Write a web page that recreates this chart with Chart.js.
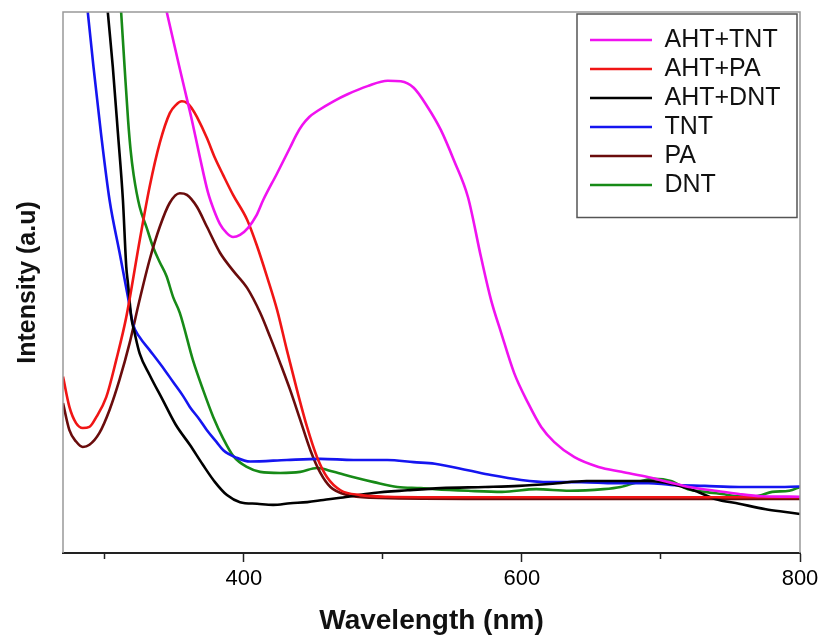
<!DOCTYPE html>
<html>
<head>
<meta charset="utf-8">
<script src="https://cdn.jsdelivr.net/npm/chart.js@4.4.1/dist/chart.umd.min.js"></script>
<style>
  body { margin: 0; background: #fff; }
</style>
</head>
<body>
<canvas id="specChart" width="820" height="638"></canvas>
<script>
// Wavelength (nm) and relative intensity
const ahtTntNm = [340, 344.6, 356.2, 362.7, 368.4, 374.2, 378.5, 382.9, 387.2, 392.3, 397.3, 403.1, 408.9, 413.9, 424.0, 433.4, 437.8, 442.1, 447.1, 452.9, 464.5, 474.6, 489.0, 503.5, 512.9, 522.2, 532.3, 541.7, 551.1, 561.2, 570.6, 577.8, 585.1, 594.4, 604.5, 613.9, 623.3, 637.8, 655.1, 671.7, 691.2, 705.6, 720.1, 738.9, 756.2, 772.8, 800];
const ahtTntVal = [105.5, 100, 87.1, 80.0, 73.2, 66.7, 63.4, 60.8, 59.3, 58.4, 58.8, 60.1, 62.3, 65.2, 70.2, 75.0, 77.3, 79.1, 80.6, 81.7, 83.5, 84.8, 86.3, 87.3, 87.2, 86.0, 82.4, 78.2, 72.6, 65.8, 54.7, 46.8, 40.7, 33.3, 27.7, 23.3, 20.5, 17.7, 15.9, 15.0, 14.0, 13.1, 12.2, 11.5, 10.9, 10.5, 10.4];

const ahtPaNm = [270, 274.6, 279.4, 284.2, 289.0, 293.9, 301.1, 308.3, 315.5, 325.3, 332.3, 339.6, 346.8, 351.1, 355.5, 359.1, 363.4, 366.3, 373.5, 379.3, 385.1, 392.3, 402.4, 409.6, 416.8, 424.0, 431.0, 438.3, 445.5, 452.7, 459.9, 469.6, 484.0, 503.2, 560, 620, 680, 740, 800];
const ahtPaVal = [32.6, 27.0, 24.0, 23.1, 23.3, 25.1, 28.8, 35.7, 43.6, 58.0, 67.7, 75.8, 81.3, 82.8, 83.5, 83.2, 81.9, 80.6, 76.7, 73.0, 69.9, 66.2, 61.6, 56.7, 51.0, 44.9, 37.5, 30.1, 23.3, 17.7, 14.0, 11.6, 10.7, 10.4, 10.3, 10.3, 10.3, 10.3, 10.3];

const ahtDntNm = [300, 302.2, 305.8, 309.5, 313.1, 315.5, 316.7, 319.1, 321.5, 325.1, 332.3, 341.7, 351.1, 361.2, 370.6, 379.3, 387.9, 397.3, 409.6, 421.1, 433.4, 445.7, 457.2, 469.5, 493.3, 517.9, 541.7, 573.5, 598.0, 622.2, 646.4, 671.0, 690.5, 707.1, 724.4, 738.9, 756.2, 775.4, 792.3, 800];
const ahtDntVal = [106.8, 100, 89.9, 77.6, 65.2, 52.9, 49.9, 43.6, 40.7, 36.9, 32.9, 28.3, 23.7, 20.0, 16.3, 13.1, 10.7, 9.4, 9.1, 8.9, 9.2, 9.4, 9.8, 10.2, 11.1, 11.6, 12.0, 12.2, 12.4, 12.8, 13.3, 13.3, 13.3, 12.8, 11.5, 10.0, 9.1, 8.1, 7.5, 7.2];

const tntNm = [285, 287.8, 291.9, 297.3, 303.5, 310.7, 316.7, 320.3, 325.1, 332.3, 343.2, 349.2, 356.4, 361.2, 368.4, 373.5, 380.5, 385.3, 394.9, 404.5, 431.0, 455.1, 478.9, 503.2, 522.2, 537.4, 561.2, 577.8, 599.5, 619.0, 642.8, 666.6, 691.2, 707.1, 731.6, 756.2, 780.0, 800];
const tntVal = [107.7, 100, 89.9, 77.6, 65.2, 55.5, 47.3, 42.3, 39.9, 37.5, 33.8, 31.6, 29.0, 27.0, 24.6, 22.7, 20.5, 19.0, 17.6, 16.9, 17.2, 17.4, 17.2, 17.2, 16.8, 16.5, 15.3, 14.4, 13.5, 13.1, 13.1, 12.9, 12.9, 12.6, 12.4, 12.2, 12.2, 12.3];

const paNm = [270, 274.6, 279.4, 284.2, 289.0, 296.2, 303.4, 310.6, 317.9, 325.1, 332.3, 339.6, 346.7, 354.0, 359.1, 366.3, 373.5, 382.9, 392.3, 402.4, 411.8, 419.0, 426.2, 433.4, 440.6, 447.9, 455.1, 462.3, 474.4, 491.2, 560, 620, 680, 740, 800];
const paVal = [27.7, 22.7, 20.6, 19.6, 20.0, 22.2, 26.4, 32.0, 38.8, 46.8, 54.2, 60.3, 64.7, 66.5, 66.2, 64.0, 60.3, 55.5, 52.2, 49.0, 44.4, 39.9, 35.1, 30.1, 24.6, 19.0, 14.8, 12.2, 10.7, 10.2, 10.0, 10.0, 10.0, 10.0, 10.0];

const dntNm = [310.3, 311.8, 314.3, 316.8, 318.6, 320.8, 325.1, 330.2, 334.7, 339.5, 344.4, 349.2, 354.0, 363.6, 370.8, 378.1, 385.3, 392.5, 402.2, 411.8, 426.2, 440.6, 452.7, 464.7, 479.1, 493.6, 510.5, 527.3, 537.4, 561.3, 585.8, 610.3, 634.2, 658.7, 671.0, 683.3, 695.2, 707.1, 719.4, 731.6, 743.9, 756.2, 768.1, 780.0, 792.3, 800];
const dntVal = [105.9, 100, 89.8, 80.0, 74.5, 69.9, 64.0, 60.1, 56.6, 53.8, 51.2, 47.3, 44.4, 35.5, 30.1, 25.1, 21.1, 17.9, 15.9, 15.0, 14.8, 15.0, 15.7, 15.0, 14.0, 13.1, 12.2, 12.0, 11.8, 11.5, 11.3, 11.8, 11.5, 11.8, 12.2, 13.1, 13.7, 13.3, 11.8, 11.3, 10.9, 10.5, 10.5, 11.3, 11.5, 12.2];

const xMajor = [400, 600, 800];
const xMinor = [300, 500, 700];

const FONT = "'Liberation Sans', Arial, sans-serif";

function pts(xs, ys) {
  return xs.map((x, i) => ({ x: x, y: ys[i] }));
}

function series(label, xs, ys, color) {
  return {
    label: label,
    data: pts(xs, ys),
    borderColor: color,
    backgroundColor: color,
    borderWidth: 2.6,
    pointRadius: 0,
    cubicInterpolationMode: 'monotone',
    fill: false
  };
}

// box around the plot and the legend
const framePlugin = {
  id: 'frame',
  afterLayout(chart) {
    const a = chart.chartArea;
    chart.legend.left = a.right - 214;
    chart.legend.top = a.top + 11.5;
  },
  afterDatasetsDraw(chart) {
    const a = chart.chartArea;
    const ctx = chart.ctx;
    ctx.save();
    ctx.strokeStyle = '#999';
    ctx.lineWidth = 1.5;
    ctx.beginPath();
    ctx.moveTo(a.left, a.bottom);
    ctx.lineTo(a.left, a.top);
    ctx.lineTo(a.right, a.top);
    ctx.lineTo(a.right, a.bottom);
    ctx.stroke();
    // legend box
    const lg = chart.legend;
    const n = chart.data.datasets.length;
    const x1 = lg.left - 9;
    const y1 = a.top + 2;
    const x2 = a.right - 3;
    const y2 = lg.top + 4 + n * 29 + 16;
    ctx.strokeStyle = '#555';
    ctx.lineWidth = 1.5;
    ctx.strokeRect(x1, y1, x2 - x1, y2 - y1);
    ctx.restore();
  }
};

const ctx = document.getElementById('specChart').getContext('2d');
new Chart(ctx, {
  type: 'line',
  data: {
    datasets: [
      series('AHT+TNT', ahtTntNm, ahtTntVal, '#f012f0'),
      series('AHT+PA', ahtPaNm, ahtPaVal, '#f01515'),
      series('AHT+DNT', ahtDntNm, ahtDntVal, '#000000'),
      series('TNT', tntNm, tntVal, '#1515f0'),
      series('PA', paNm, paVal, '#6a0c0c'),
      series('DNT', dntNm, dntVal, '#178a17')
    ]
  },
  options: {
    responsive: false,
    animation: false,
    devicePixelRatio: 1,
    layout: { padding: { left: 0, right: 20, top: 12, bottom: 0 } },
    plugins: {
      legend: {
        position: 'chartArea',
        align: 'start',
        labels: {
          usePointStyle: true,
          pointStyle: 'line',
          pointStyleWidth: 62,
          padding: 4,
          color: '#111',
          font: { family: FONT, size: 25 }
        }
      },
      tooltip: { enabled: false }
    },
    scales: {
      x: {
        type: 'linear',
        position: 'bottom',
        weight: 1,
        min: 270,
        max: 800,
        afterBuildTicks: s => { s.ticks = xMajor.map(v => ({ value: v })); },
        afterFit: s => { s.height = 85; s.paddingRight = 0; s.paddingLeft = 0; },
        ticks: {
          autoSkip: false,
          maxRotation: 0,
          padding: 4,
          color: '#000',
          font: { family: FONT, size: 22 },
          callback: v => String(v)
        },
        grid: { drawOnChartArea: false, tickLength: 9, tickColor: '#222', tickWidth: 1.5 },
        border: { display: true, color: '#222', width: 2 },
        title: {
          display: true,
          text: 'Wavelength (nm)',
          color: '#111',
          font: { family: FONT, size: 28, weight: 'bold' },
          padding: { top: 0, bottom: 0 }
        }
      },
      xMinorAxis: {
        type: 'linear',
        position: 'bottom',
        weight: 0,
        min: 270,
        max: 800,
        afterBuildTicks: s => { s.ticks = xMinor.map(v => ({ value: v })); },
        afterFit: s => { s.height = 0; s.paddingRight = 0; s.paddingLeft = 0; },
        ticks: { autoSkip: false, maxRotation: 0, callback: () => '', padding: 0 },
        grid: { drawOnChartArea: false, tickLength: 6, tickColor: '#222', tickWidth: 1.5 },
        border: { display: false }
      },
      y: {
        type: 'linear',
        min: 0,
        max: 100,
        afterFit: s => { s.width = 63; },
        ticks: { display: false },
        grid: { display: false },
        border: { display: false },
        title: {
          display: true,
          text: 'Intensity (a.u)',
          color: '#111',
          font: { family: FONT, size: 25, weight: 'bold' },
          padding: { top: 13, bottom: 0 }
        }
      }
    }
  },
  plugins: [framePlugin]
});
</script>
</body>
</html>
